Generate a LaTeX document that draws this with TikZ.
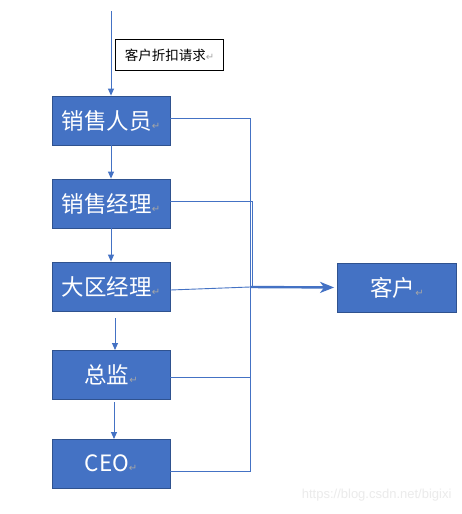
\documentclass[tikz,border=0pt]{standalone}
\usepackage{fontspec}
\setmainfont{Noto Sans CJK SC}
\newfontfamily\markfont{DejaVu Sans}
\newfontfamily\wmfont{Liberation Sans}
\usetikzlibrary{arrows.meta}
\definecolor{boxblue}{HTML}{4472C4}
\definecolor{boxedge}{HTML}{2F528F}
\definecolor{linkblue}{HTML}{4472C4}
\definecolor{retgray}{HTML}{A6A6A6}
\tikzset{
  rolebox/.style={draw=boxedge, line width=0.8pt, fill=boxblue, text=white,
    minimum width=118pt, minimum height=49pt, inner sep=0pt,
    font=\fontsize{22.5}{25}\selectfont},
  labelbox/.style={draw=black, line width=0.8pt, fill=white,
    minimum width=108pt, minimum height=31pt, inner sep=0pt,
    font=\fontsize{13.5}{15}\selectfont},
  flow/.style={draw=linkblue, line width=0.9pt, -{Triangle[length=7pt,width=6pt]}},
  feed/.style={draw=linkblue, line width=0.9pt},
  bigflow/.style={draw=linkblue, line width=2.4pt, shorten >=3pt,
    -{Stealth[length=14pt,width=11pt,inset=4pt]}},
}
\newcommand{\ret}{\textcolor{retgray}{\markfont\fontsize{10}{10}\selectfont ↵}}
\begin{document}
\begin{tikzpicture}[x=1pt,y=-1pt]
\useasboundingbox[fill=white] (0,0) rectangle (462,514);
\node[rolebox] (n1) at (111,120.5) {销售人员\ret};
\node[rolebox] (n2) at (111,203.5) {销售经理\ret};
\node[rolebox] (n3) at (111,286.5) {大区经理\ret};
\node[rolebox] (n4) at (111,374.5) {总监\ret};
\node[rolebox] (n5) at (111,463.5) {CEO\ret};
\node[rolebox, minimum width=119pt] (kh) at (397,287.5) {客户\ret};
\node[labelbox] (lab) at (169.5,55) {客户折扣请求\ret};
\coordinate (top) at (111,11);
\coordinate (s34) at (115,318);
\coordinate (e34) at (115,350);
\coordinate (s45) at (114,402);
\coordinate (e45) at (114,439);
\coordinate (j) at (250,287);
\draw[flow] (top) -- (n1.north);
\draw[flow] (n1.south) -- (n2.north);
\draw[flow] (n2.south) -- (n3.north);
\draw[flow] (s34) -- (e34);
\draw[flow] (s45) -- (e45);
\draw[feed] (n1.east |- 0,118) -| (j);
\draw[feed] (n2.east |- 0,201) -| (252,287) -- (j);
\draw[feed] (n3.east |- 0,290) -- (j);
\draw[feed] (n4.east |- 0,377) -| (j);
\draw[feed] (n5.east |- 0,471) -| (j);
\draw[bigflow] (j) -- (kh.west);
\node[text=black!8, font=\wmfont\fontsize{13}{15}\selectfont, anchor=east] (wm) at (455,495) {https://blog.csdn.net/bigixi};
\end{tikzpicture}
\end{document}
